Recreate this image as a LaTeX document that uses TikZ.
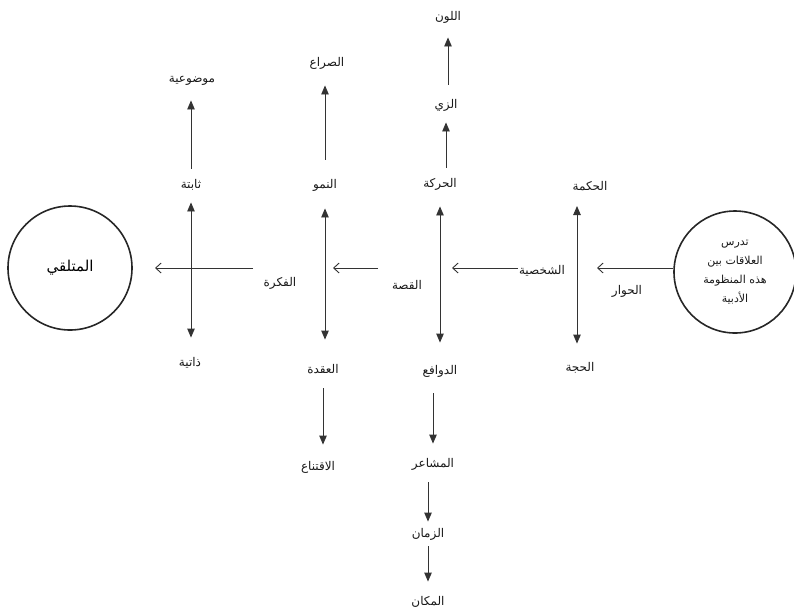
\documentclass[tikz,border=0pt]{standalone}
\usepackage{fontspec}
\newfontfamily\arabicfont[Script=Arabic]{DejaVu Sans}
\TeXXeTstate=1
\usetikzlibrary{arrows.meta}
\newcommand\artxt[1]{\beginR #1\endR}

\begin{document}
\begin{tikzpicture}[x=1pt,y=-1pt,
  lbl/.style={font=\arabicfont\fontsize{12}{14}\selectfont, text=black!90,
    inner sep=1pt, text height=9pt, text depth=3.5pt},
  ring/.style={draw=black!85, line width=1.6pt, circle},
  stem/.style={draw=black!80, line width=0.9pt},
  upar/.style={stem, -{Triangle[width=7.5pt,length=9pt]}},
  twoar/.style={stem, {Triangle[width=7.5pt,length=9pt]}-{Triangle[width=7.5pt,length=9pt]}},
  harrow/.style={stem, -{Straight Barb[length=5.5pt,width=10pt,line width=0.9pt]}}]
\useasboundingbox (0,0) rectangle (794,614);

% the two circles
\node[ring, minimum size=124pt, font=\arabicfont\fontsize{15}{17}\selectfont] (recv) at (70,268) {\artxt{المتلقي}};
\node[ring, minimum size=122pt, align=center, text=black!90,
      font=\arabicfont\fontsize{11}{19}\selectfont] (src) at (735,272)
  {\artxt{تدرس}\\ \artxt{العلاقات بين}\\ \artxt{هذه المنظومة}\\ \artxt{الأدبية}};

% column 1
\node[lbl] (mawdu) at (192,80) {\artxt{موضوعية}};
\node[lbl] (thabita) at (191,186) {\artxt{ثابتة}};
\node[lbl] (dhatiya) at (190,364) {\artxt{ذاتية}};
% column 2
\node[lbl] (sira) at (327,64) {\artxt{الصراع}};
\node[lbl] (numu) at (325,186) {\artxt{النمو}};
\node[lbl] (uqda) at (323,371) {\artxt{العقدة}};
\node[lbl] (iqtina) at (318,468) {\artxt{الاقتناع}};
% column 3
\node[lbl] (lawn) at (448,18) {\artxt{اللون}};
\node[lbl] (zayy) at (446,106) {\artxt{الزي}};
\node[lbl] (haraka) at (440,185) {\artxt{الحركة}};
\node[lbl] (dawafi) at (440,372) {\artxt{الدوافع}};
\node[lbl] (mashaer) at (433,465) {\artxt{المشاعر}};
\node[lbl] (zaman) at (428,535) {\artxt{الزمان}};
\node[lbl] (makan) at (428,603) {\artxt{المكان}};
% column 4
\node[lbl] (hikma) at (590,188) {\artxt{الحكمة}};
\node[lbl] (hujja) at (580,369) {\artxt{الحجة}};
\coordinate (col4top) at (577,200);

% labels along the main line
\node[lbl] (hiwar) at (627,292) {\artxt{الحوار}};
\node[lbl] (shakh) at (542,272) {\artxt{الشخصية}};
\node[lbl] (qissa) at (407,287) {\artxt{القصة}};
\node[lbl] (fikra) at (280,284) {\artxt{الفكرة}};

% ends of the main horizontal line
\coordinate (tipA) at (597,268);
\coordinate (tipB) at (452,268);
\coordinate (startC) at (378,268);
\coordinate (tipC) at (333,268);
\coordinate (startD) at (253,268);
\coordinate (tipD) at (155,268);

\draw[harrow] (src.west |- tipA) -- (tipA);
\draw[harrow] (shakh.west |- tipB) -- (tipB);
\draw[harrow] (startC) -- (tipC);
\draw[harrow] (startD) -- (tipD);

% column 1 connectors
\draw[upar, shorten <=10pt, shorten >=13pt] (thabita.north) -- (thabita.north |- mawdu.south);
\draw[twoar, shorten <=9pt, shorten >=19pt] (thabita.south) -- (thabita.south |- dhatiya.north);
% column 2 connectors
\draw[upar, shorten <=19pt, shorten >=14pt] (numu.north) -- (numu.north |- sira.south);
\draw[twoar, shorten <=15pt, shorten >=24pt] (numu.south) -- (numu.south |- uqda.north);
\draw[upar, shorten <=10pt, shorten >=16pt] (uqda.south) -- (uqda.south |- iqtina.north);
% column 3 connectors
\draw[upar, shorten <=10pt, shorten >=9pt] (haraka.north -| zayy) -- (zayy.south);
\draw[upar, shorten <=14pt, shorten >=12pt] (zayy.north -| lawn) -- (lawn.south);
\draw[twoar, shorten <=14pt, shorten >=22pt] (haraka.south) -- (haraka.south |- dawafi.north);
\draw[upar, shorten <=14pt, shorten >=14pt] (dawafi.south -| mashaer) -- (mashaer.north);
\draw[upar, shorten <=10pt, shorten >=6pt] (mashaer.south -| zaman) -- (zaman.north);
\draw[upar, shorten <=4pt, shorten >=14pt] (zaman.south -| makan) -- (makan.north);
% column 4 connector
\draw[twoar, shorten <=6pt, shorten >=18pt] (col4top) -- (col4top |- hujja.north);
\end{tikzpicture}
\end{document}
